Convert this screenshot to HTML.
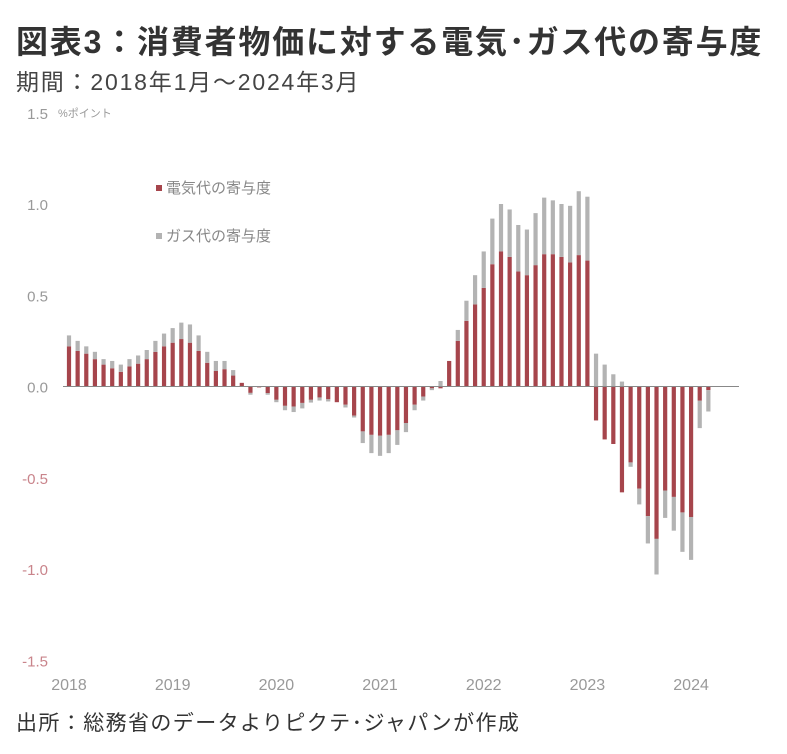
<!DOCTYPE html>
<html><head><meta charset="utf-8">
<style>
body{margin:0;background:#fff;width:787px;height:754px;overflow:hidden;font-family:"Liberation Sans","Noto Sans CJK JP",sans-serif;}
#title{position:absolute;left:16px;top:17px;font-size:32px;font-weight:bold;color:#333;letter-spacing:1.8px;white-space:nowrap;}
#sub{position:absolute;left:16px;top:63px;font-size:23px;color:#444;letter-spacing:1.8px;white-space:nowrap;}
#src{position:absolute;left:16px;top:707px;font-size:21px;color:#333;letter-spacing:1.4px;white-space:nowrap;}
svg{position:absolute;left:0;top:0;}
</style></head><body>
<div id="title">図表3：消費者物価に対する電気･ガス代の寄与度</div>
<div id="sub">期間：2018年1月～2024年3月</div>
<div id="src">出所：総務省のデータよりピクテ･ジャパンが作成</div>
<svg id="chart" width="787" height="754"></svg>
<script>
const electricity=[0.22,0.195,0.18,0.15,0.12,0.10,0.08,0.11,0.125,0.15,0.19,0.22,
0.24,0.26,0.24,0.195,0.13,0.085,0.095,0.06,0.02,-0.035,-0.005,-0.036,
-0.073,-0.106,-0.11,-0.09,-0.073,-0.06,-0.07,-0.086,-0.10,-0.16,-0.246,-0.265,
-0.27,-0.265,-0.24,-0.20,-0.10,-0.055,-0.01,-0.01,0.14,0.25,0.36,0.45,
0.54,0.67,0.74,0.71,0.63,0.61,0.665,0.725,0.725,0.71,0.68,0.72,
0.69,-0.186,-0.29,-0.315,-0.58,-0.416,-0.56,-0.71,-0.835,-0.57,-0.605,-0.69,
-0.715,-0.078,-0.02];
const gas=[0.06,0.055,0.04,0.04,0.03,0.04,0.04,0.04,0.045,0.05,0.06,0.07,
0.08,0.09,0.10,0.085,0.06,0.055,0.045,0.03,0.0,-0.01,0.0,-0.009,
-0.013,-0.024,-0.03,-0.03,-0.015,-0.017,-0.012,0.0,-0.015,-0.01,-0.064,-0.10,
-0.11,-0.10,-0.08,-0.05,-0.03,-0.022,-0.01,0.03,0.0,0.06,0.11,0.16,
0.20,0.25,0.26,0.26,0.255,0.25,0.285,0.31,0.295,0.29,0.31,0.35,
0.35,0.18,0.12,0.067,0.027,-0.024,-0.086,-0.15,-0.195,-0.15,-0.185,-0.216,
-0.235,-0.15,-0.117];
const yTicks=[1.5,1.0,0.5,0.0,-0.5,-1.0,-1.5];
const yearLabels=["2018","2019","2020","2021","2022","2023","2024"];
const svg=document.getElementById('chart');
const NS='http://www.w3.org/2000/svg';
const y=v=>386.5-v*182.5;
const x=i=>69+i*8.64;
function mk(t,a){const e=document.createElementNS(NS,t);for(const k in a)e.setAttribute(k,a[k]);svg.appendChild(e);return e;}
yTicks.forEach(v=>{const t=mk('text',{x:48,y:y(v)+6,'text-anchor':'end','font-size':15,fill:v<0?'#c9848b':'#999','font-family':'"Liberation Sans Narrow","Liberation Sans",sans-serif'});t.textContent=v.toFixed(1);

});
const u=mk('text',{x:58,y:117,'font-size':11,fill:'#999'});u.textContent='%ポイント';


yearLabels.forEach((s,k)=>{const t=mk('text',{x:x(k*12),y:690,'text-anchor':'middle','font-size':16,fill:'#999','font-family':'"Liberation Sans Narrow","Liberation Sans",sans-serif'});t.textContent=s;

});
electricity.forEach((e,i)=>{
 const g=gas[i];const w=4.2,xx=x(i)-w/2;
 let pos=0,neg=0;
 [[e,'#a6454c','electricity-bar'],[g,'#b3b3b3','gas-bar']].forEach(([v,c,n])=>{
  if(v===0)return;let y0,y1;
  if(v>0){y0=y(pos+v);y1=y(pos);pos+=v;}else{y0=y(neg);y1=y(neg+v);neg+=v;}
  const r=mk('rect',{x:xx,y:y0,width:w,height:Math.max(0.5,y1-y0),fill:c});
  
  
 });
});
const ax=mk('line',{x1:63,x2:739,y1:y(0),y2:y(0),stroke:'#888','stroke-width':1});


[['電気代の寄与度','#a6454c',193],['ガス代の寄与度','#b3b3b3',241]].forEach(([s,c,yy])=>{
 const r=mk('rect',{x:156,y:yy-8,width:6,height:6,fill:c});
 
 
 const t=mk('text',{x:166,y:yy,'font-size':15,fill:'#888'});t.textContent=s;
 
 
});
</script>
</body></html>
